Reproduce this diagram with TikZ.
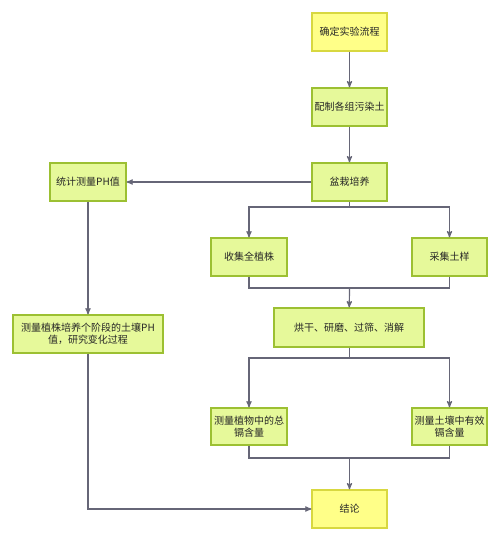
\documentclass[tikz,border=0pt]{standalone}
\usepackage{fontspec}
\setmainfont{Noto Sans CJK SC}
\usetikzlibrary{arrows}
\definecolor{lg}{HTML}{E6F99A}
\definecolor{lgd}{HTML}{9CC032}
\definecolor{ly}{HTML}{FFFF88}
\definecolor{lyd}{HTML}{D8D840}
\definecolor{ar}{HTML}{666677}
\tikzset{
    step box/.style = {rectangle,
                    fill=lg,
                    draw=lgd,
                    text=black!85,
                    line width=1.2pt,
                    align=center,
                    inner sep=1pt,
                    font=\fontsize{10}{12.5}\selectfont,
                    minimum width=75pt,
                    minimum height=38pt},
    end box/.style = {step box,
                    fill=ly,
                    draw=lyd},
    wide box/.style = {step box,
                    minimum width=150pt},
    -,
    line/.style = {draw=ar,
                    line width=1.2pt},
    >=stealth',
    x=1pt,
    y=-1pt}
\begin{document}
\begin{tikzpicture}
            \useasboundingbox (0,0) rectangle (500,541);
            \node[end box]  (Plan) at (349.5,32)        {确定实验流程};
            \node[step box] (Soil) at (349.5,107)       {配制各组污染土};
            \node[step box] (Pot) at (349.5,182)        {盆栽培养};
            \node[step box, minimum width=76pt] (PH) at (88,182) {统计测量PH值};
            \node[step box, minimum width=76pt] (Plant) at (249,257) {收集全植株};
            \node[step box] (Sample) at (449.5,257)     {采集土样};
            \node[wide box, minimum height=39pt] (Dry) at (349,327.5) {烘干、研磨、过筛、消解};
            \node[step box, minimum width=76pt, minimum height=37pt] (Total) at (249,426.5) {测量植物中的总\\镉含量};
            \node[step box, minimum height=37pt] (Avail) at (449.5,426.5) {测量土壤中有效\\镉含量};
            \node[end box]  (End) at (349.5,509)        {结论};
            \node[wide box] (PHS) at (88,334)           {测量植株培养个阶段的土壤PH\\值，研究变化过程};
            \coordinate (PotPS) at (349.5,207);
            \coordinate (PS) at (349.5,288);
            \coordinate (DryTA) at (349.5,358);
            \coordinate (TA) at (349.5,458);
            \draw[line,->]  (Plan) -- (Soil);
            \draw[line,->]  (Soil) -- (Pot);
            \draw[line,->]  (Pot) -- (PH);
            \draw[line]     (Pot) -- (PotPS);
            \draw[line,->]  (PotPS) -| (Plant);
            \draw[line,->]  (PotPS) -| (Sample);
            \draw[line]     (Plant) |- (PS);
            \draw[line]     (Sample) |- (PS);
            \draw[line,->]  (PS) -- (Dry);
            \draw[line]     (Dry.south -| DryTA) -- (DryTA);
            \draw[line,->]  (DryTA) -| (Total);
            \draw[line,->]  (DryTA) -| (Avail);
            \draw[line]     (Total) |- (TA);
            \draw[line]     (Avail) |- (TA);
            \draw[line,->]  (TA) -- (End);
            \draw[line,->]  (PH) -- (PHS);
            \draw[line,->]  (PHS) |- (End);
        \end{tikzpicture}
\end{document}
